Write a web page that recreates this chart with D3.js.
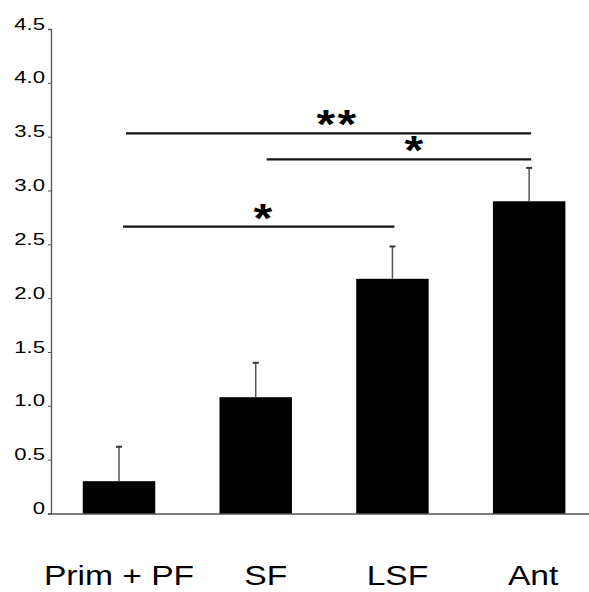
<!DOCTYPE html>
<html>
<head>
<meta charset="utf-8">
<script src="https://cdn.jsdelivr.net/npm/d3@7"></script>
<style>
  html, body { margin: 0; padding: 0; background: #fff; }
  svg { display: block; }
  text { font-family: "Liberation Sans", Arial, Helvetica, sans-serif; fill: #000; }
</style>
</head>
<body>
<svg id="chart" width="589" height="592"></svg>
<script>
// ---- data ----
const categories = ["Prim + PF", "SF", "LSF", "Ant"];
const means = [0.30, 1.08, 2.18, 2.90];
const errors = [0.32, 0.32, 0.30, 0.31];
const yTicks = [0, 0.5, 1.0, 1.5, 2.0, 2.5, 3.0, 3.5, 4.0, 4.5];
const sigFrom = ["Prim + PF", "SF", "Prim + PF"];
const sigTo = ["Ant", "Ant", "LSF"];
const sigLevel = [3.53, 3.29, 2.665];
const sigLabel = ["**", "*", "*"];

// ---- layout ----
const svg = d3.select("#chart");
const axisX = 51;
const baseY = 513.5;
const topY = 29;

const x = d3.scaleBand()
  .domain(categories)
  .range([50.65, 597.5])
  .paddingInner(0.47)
  .paddingOuter(0.235);

const y = d3.scaleLinear().domain([0, 4.5]).range([baseY, topY]);
const cx = c => x(c) + x.bandwidth() / 2;

// y axis
const yAxis = d3.axisLeft(y)
  .tickValues(yTicks)
  .tickSize(3)
  .tickFormat(d => d === 0 ? "0" : d3.format(".1f")(d));

const gy = svg.append("g")
  .attr("transform", `translate(${axisX},0)`)
  .call(yAxis);
gy.select(".domain").attr("stroke", "#555").attr("stroke-width", 1.3);
gy.selectAll(".tick line").attr("stroke", "#555").attr("stroke-width", 1);
gy.selectAll(".tick text")
  .attr("x", null).attr("dy", null)
  .attr("text-anchor", "end")
  .attr("transform", "translate(-6,0) scale(1.3,1)")
  .style("font-size", "17px")
  .style("fill", "#000");

// x axis line
const gx = svg.append("g")
  .attr("transform", `translate(0,${baseY})`)
  .call(d3.axisBottom(x).tickSize(0).tickFormat(""));
gx.select(".domain").attr("stroke", "#555").attr("stroke-width", 1.3);

// bars
svg.append("g").selectAll("rect")
  .data(categories)
  .join("rect")
  .attr("x", d => x(d))
  .attr("width", x.bandwidth())
  .attr("y", (d, i) => y(means[i]))
  .attr("height", (d, i) => y(0) - y(means[i]))
  .attr("fill", "#000");

// error bars
const eg = svg.append("g").attr("stroke", "#555").attr("stroke-width", 1.5);
categories.forEach((c, i) => {
  eg.append("line")
    .attr("x1", cx(c)).attr("x2", cx(c))
    .attr("y1", y(means[i])).attr("y2", y(means[i] + errors[i]));
  eg.append("line")
    .attr("x1", cx(c) - 3).attr("x2", cx(c) + 3)
    .attr("y1", y(means[i] + errors[i])).attr("y2", y(means[i] + errors[i]))
    .attr("stroke", "#333").attr("stroke-width", 2);
});

// significance lines
const sigInsetStart = [7, 11, 4];
const sigInsetEnd = [2, 2, 2];
const starShift = [9, 15, 4];
sigLevel.forEach((v, i) => {
  const x1 = cx(sigFrom[i]) + sigInsetStart[i];
  const x2 = cx(sigTo[i]) + sigInsetEnd[i];
  svg.append("line")
    .attr("x1", x1).attr("x2", x2)
    .attr("y1", y(v)).attr("y2", y(v))
    .attr("stroke", "#111").attr("stroke-width", 2.2);
  svg.append("text")
    .attr("text-anchor", "middle")
    .attr("transform", `translate(${(x1 + x2) / 2 + starShift[i]},${y(v) + 5}) scale(1.2,1)`)
    .style("font-size", "40px")
    .style("font-weight", "bold")
    .style("letter-spacing", i === 0 ? "2px" : "0px")
    .text(sigLabel[i]);
});

// category labels
const labelShift = [0, 10, 5, 4];
svg.append("g").selectAll("text")
  .data(categories)
  .join("text")
  .attr("text-anchor", "middle")
  .attr("transform", (d, i) => `translate(${cx(d) + labelShift[i]},585) scale(1.2,1)`)
  .style("font-size", "28px")
  .text(d => d);
</script>
</body>
</html>
